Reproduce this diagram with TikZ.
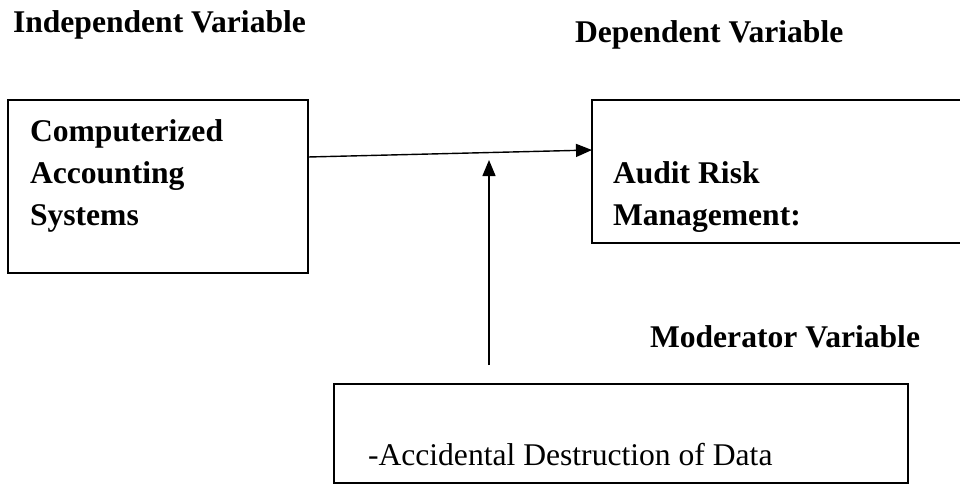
\documentclass[tikz,border=0pt]{standalone}
\usepackage{fontspec}
\setmainfont{Liberation Serif}
\usetikzlibrary{arrows.meta,calc}
\begin{document}
\begin{tikzpicture}[x=1pt,y=-1pt,
  every node/.style={inner sep=0pt,outer sep=0pt},
  lbl/.style={anchor=base west,font=\fontsize{31.6}{42}\selectfont\bfseries},
  plain/.style={anchor=base west,font=\fontsize{31.6}{42}\selectfont},
  boxx/.style={draw,line width=1.4pt,rectangle},
  arr/.style={line width=1.4pt,-{Triangle[length=16pt,width=13pt]}}]
\useasboundingbox (0,0) rectangle (960,485);
% boxes
\node[boxx,minimum width=300pt,minimum height=173pt] (lb) at (158,186.5) {};
\node[boxx,minimum width=398pt,minimum height=143pt] (rb) at (791,171.5) {};
\node[boxx,minimum width=574pt,minimum height=99pt] (bb) at (621,433.5) {};
% headings
\node[lbl] (indep) at (13,32) {Independent Variable};
\node[lbl] (dep) at (575,42) {Dependent Variable};
\node[lbl] (mod) at (650,347) {Moderator Variable};
% box texts
\node[lbl] (c1) at (30,141) {Computerized};
\node[lbl] (c2) at (30,183) {Accounting};
\node[lbl] (c3) at (30,225) {Systems};
\node[lbl] (a1) at (613,183) {Audit Risk};
\node[lbl] (a2) at (613,225) {Management:};
\node[plain] (acc) at (368,465) {-Accidental Destruction of Data};
% connectors
\coordinate (modtip) at (489,160);
\draw[arr] ($(lb.north east)+(0,57)$) -- ($(rb.north west)+(0,50)$);
\draw[arr] ($(bb.north west)+(155,-19)$) -- (modtip);
\end{tikzpicture}
\end{document}
